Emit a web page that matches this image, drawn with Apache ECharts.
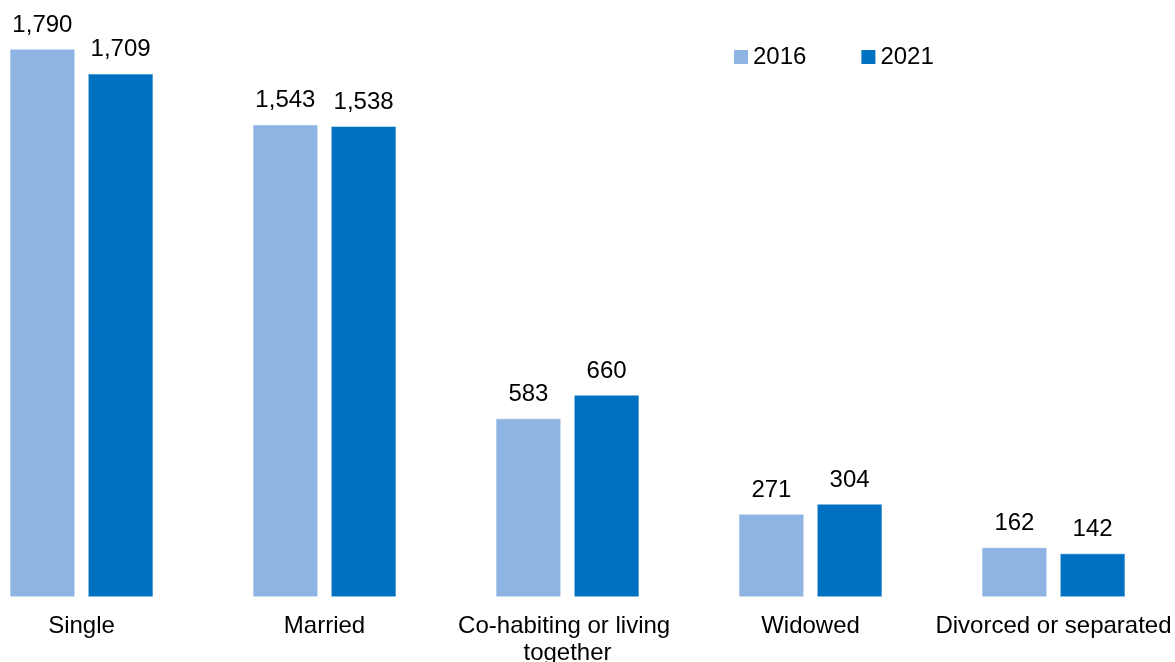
<!DOCTYPE html>
<html>
<head>
<meta charset="utf-8">
<script src="https://cdn.jsdelivr.net/npm/echarts@6/dist/echarts.min.js"></script>
<style>html,body{margin:0;padding:0;background:#fff;}#c{width:1175px;height:662px;}</style>
</head>
<body>
<div id="c"></div>
<script>
const categories = ['Single', 'Married', 'Co-habiting or living together', 'Widowed', 'Divorced or separated'];
const values2016 = [1790, 1543, 583, 271, 162];
const values2021 = [1709, 1538, 660, 304, 142];
const seriesNames = ['2016', '2021'];

const chart = echarts.init(document.getElementById('c'), null, {renderer: 'canvas'});
const font = 'Liberation Sans, Arial, sans-serif';
const labelCfg = {
  show: true, position: 'top', distance: 12, color: '#000', fontSize: 24, fontFamily: font,
  formatter: p => p.value.toLocaleString('en-US')
};
chart.setOption({
  animation: false,
  backgroundColor: '#fff',
  textStyle: {fontFamily: font},
  legend: {
    top: 40, left: 729, itemWidth: 14, itemHeight: 14, itemGap: 55,
    icon: 'rect',
    itemStyle: {borderWidth: 0},
    textStyle: {fontSize: 24, color: '#000', fontFamily: font},
    data: seriesNames
  },
  grid: {left: -40, right: 0, top: 46, bottom: 65, containLabel: false, outerBoundsMode: 'none'},
  xAxis: {
    type: 'category', data: categories,
    axisLine: {show: false}, axisTick: {show: false},
    axisLabel: {
      color: '#000', fontSize: 24, fontFamily: font, margin: 16, lineHeight: 27,
      width: 240, overflow: 'break', interval: 0
    }
  },
  yAxis: {
    type: 'value', min: 0, max: 1800, show: false, splitLine: {show: false}
  },
  series: [
    {
      name: seriesNames[0], type: 'bar', data: values2016,
      barGap: '20%', barCategoryGap: '41%',
      itemStyle: {color: '#8EB4E3', borderColor: '#fff', borderWidth: 0.5},
      label: labelCfg
    },
    {
      name: seriesNames[1], type: 'bar', data: values2021,
      itemStyle: {color: '#0070C0', borderColor: '#fff', borderWidth: 0.5},
      label: labelCfg
    }
  ]
});
</script>
</body>
</html>
